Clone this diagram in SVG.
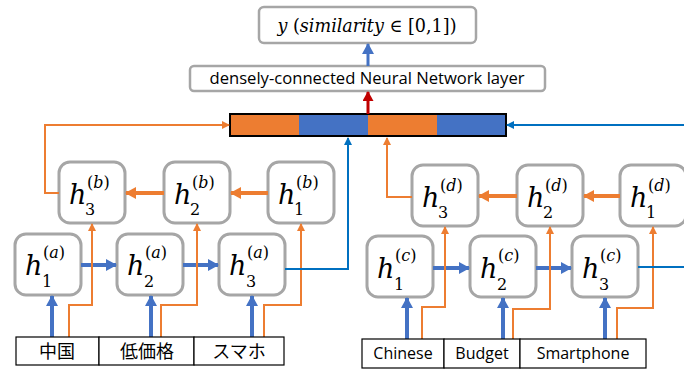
<svg xmlns="http://www.w3.org/2000/svg" width="684" height="372" viewBox="0 0 684 372">
<style>
.node{fill:#fff;stroke:#A6A6A6;stroke-width:3}
.box{fill:#fff;stroke:#A6A6A6;stroke-width:2.5}
.h{font-family:"DejaVu Serif","Liberation Serif",serif;font-style:italic;font-size:27px;fill:#000}
.s{font-family:"DejaVu Serif","Liberation Serif",serif;font-size:16px;fill:#000}
.i{font-style:italic}
.bt{fill:none;stroke:#4472C4;stroke-width:4}
.ot{fill:none;stroke:#ED7D31;stroke-width:4}
.o{fill:none;stroke:#ED7D31;stroke-width:2}
.b{fill:none;stroke:#0070C0;stroke-width:2}
.cell{fill:#fff;stroke:#000;stroke-width:1.2}
.w{font-family:"Open Sans","Noto Sans",sans-serif;font-size:16px;fill:#000}
.j{font-family:"Noto Sans CJK JP","Noto Sans",sans-serif;font-size:18px;fill:#000}
</style>
<defs>
<marker id="mbt" markerUnits="userSpaceOnUse" markerWidth="11" markerHeight="12" refX="10" refY="6" orient="auto"><path d="M0,0 L11,6 L0,12 z" fill="#4472C4"/></marker>
<marker id="mot" markerUnits="userSpaceOnUse" markerWidth="11" markerHeight="12" refX="10" refY="6" orient="auto"><path d="M0,0 L11,6 L0,12 z" fill="#ED7D31"/></marker>
<marker id="mo" markerUnits="userSpaceOnUse" markerWidth="8" markerHeight="8" refX="7" refY="4" orient="auto"><path d="M0,0 L8,4 L0,8 z" fill="#ED7D31"/></marker>
<marker id="mb" markerUnits="userSpaceOnUse" markerWidth="8" markerHeight="8" refX="7" refY="4" orient="auto"><path d="M0,0 L8,4 L0,8 z" fill="#0070C0"/></marker>
<marker id="mr" markerUnits="userSpaceOnUse" markerWidth="10" markerHeight="11" refX="9" refY="5.5" orient="auto"><path d="M0,0 L10,5.5 L0,11 z" fill="#C00000"/></marker>
</defs>

<g id="output">
<rect class="box" x="259" y="7" width="217" height="36" rx="5" stroke-width="3"/>
<text x="367" y="32" text-anchor="middle" font-family="DejaVu Serif,Liberation Serif,serif" font-size="18" textLength="179" lengthAdjust="spacingAndGlyphs"><tspan font-style="italic">y</tspan> (<tspan font-style="italic">similarity</tspan> ∈ [0,1])</text>
</g>
<g id="dense">
<rect class="box" x="190" y="66" width="355" height="25" rx="4"/>
<text x="367" y="84" text-anchor="middle" class="w" font-size="15" textLength="315" lengthAdjust="spacingAndGlyphs">densely-connected Neural Network layer</text>
</g>
<g id="concat">
<rect x="230" y="114" width="69" height="22" fill="#ED7D31"/>
<rect x="299" y="114" width="69" height="22" fill="#4472C4"/>
<rect x="368" y="114" width="69" height="22" fill="#ED7D31"/>
<rect x="437" y="114" width="69" height="22" fill="#4472C4"/>
<rect x="230" y="114" width="276" height="22" fill="none" stroke="#000" stroke-width="2"/>
</g>

<g id="h1a"><rect class="node" x="15" y="234" width="66" height="61" rx="11"/><text class="h" x="25" y="275">h</text><text class="s" x="43" y="258">(<tspan class="i">a</tspan>)</text><text class="s" x="42" y="287">1</text></g>
<g id="h2a"><rect class="node" x="117" y="234" width="66" height="61" rx="11"/><text class="h" x="127" y="275">h</text><text class="s" x="145" y="258">(<tspan class="i">a</tspan>)</text><text class="s" x="144" y="287">2</text></g>
<g id="h3a"><rect class="node" x="219" y="234" width="66" height="61" rx="11"/><text class="h" x="229" y="275">h</text><text class="s" x="247" y="258">(<tspan class="i">a</tspan>)</text><text class="s" x="246" y="287">3</text></g>

<g id="h3b"><rect class="node" x="59" y="162" width="66" height="61" rx="11"/><text class="h" x="69" y="204">h</text><text class="s" x="87" y="188">(<tspan class="i">b</tspan>)</text><text class="s" x="85" y="215">3</text></g>
<g id="h2b"><rect class="node" x="164" y="162" width="66" height="61" rx="11"/><text class="h" x="174" y="204">h</text><text class="s" x="192" y="188">(<tspan class="i">b</tspan>)</text><text class="s" x="190" y="215">2</text></g>
<g id="h1b"><rect class="node" x="268" y="162" width="66" height="61" rx="11"/><text class="h" x="278" y="204">h</text><text class="s" x="296" y="188">(<tspan class="i">b</tspan>)</text><text class="s" x="294" y="215">1</text></g>

<g id="h1c"><rect class="node" x="367" y="236" width="66" height="61" rx="11"/><text class="h" x="377" y="278">h</text><text class="s" x="395" y="261">(<tspan class="i">c</tspan>)</text><text class="s" x="394" y="290">1</text></g>
<g id="h2c"><rect class="node" x="470" y="236" width="66" height="61" rx="11"/><text class="h" x="480" y="278">h</text><text class="s" x="498" y="261">(<tspan class="i">c</tspan>)</text><text class="s" x="497" y="290">2</text></g>
<g id="h3c"><rect class="node" x="572" y="236" width="66" height="61" rx="11"/><text class="h" x="582" y="278">h</text><text class="s" x="600" y="261">(<tspan class="i">c</tspan>)</text><text class="s" x="599" y="290">3</text></g>

<g id="h3d"><rect class="node" x="412" y="165" width="66" height="61" rx="11"/><text class="h" x="422" y="207">h</text><text class="s" x="440" y="191">(<tspan class="i">d</tspan>)</text><text class="s" x="438" y="218">3</text></g>
<g id="h2d"><rect class="node" x="517" y="165" width="66" height="61" rx="11"/><text class="h" x="527" y="207">h</text><text class="s" x="545" y="191">(<tspan class="i">d</tspan>)</text><text class="s" x="543" y="218">2</text></g>
<g id="h1d"><rect class="node" x="620" y="165" width="66" height="61" rx="11"/><text class="h" x="630" y="207">h</text><text class="s" x="648" y="191">(<tspan class="i">d</tspan>)</text><text class="s" x="646" y="218">1</text></g>

<g id="connectors">
<path d="M368,66 V44" fill="none" stroke="#4472C4" stroke-width="3" marker-end="url(#mbt)"/>
<path d="M368,114 V92" fill="none" stroke="#C00000" stroke-width="3" marker-end="url(#mr)"/>
<path class="bt" d="M81,265 H116" marker-end="url(#mbt)"/>
<path class="bt" d="M183,265 H218" marker-end="url(#mbt)"/>
<path class="bt" d="M433,268 H469" marker-end="url(#mbt)"/>
<path class="bt" d="M536,268 H571" marker-end="url(#mbt)"/>
<path class="ot" d="M268,193 H231" marker-end="url(#mot)"/>
<path class="ot" d="M164,193 H126" marker-end="url(#mot)"/>
<path class="ot" d="M620,196 H584" marker-end="url(#mot)"/>
<path class="ot" d="M517,196 H479" marker-end="url(#mot)"/>
<path class="bt" d="M52,337 V296" marker-end="url(#mbt)"/>
<path class="bt" d="M151,337 V296" marker-end="url(#mbt)"/>
<path class="bt" d="M252,337 V296" marker-end="url(#mbt)"/>
<path class="bt" d="M407,339 V298" marker-end="url(#mbt)"/>
<path class="bt" d="M503,339 V298" marker-end="url(#mbt)"/>
<path class="bt" d="M605,339 V298" marker-end="url(#mbt)"/>
<path class="o" d="M69,337 V305 H92 V224" marker-end="url(#mo)"/>
<path class="o" d="M161,337 V305 H197 V224" marker-end="url(#mo)"/>
<path class="o" d="M264,337 V305 H301 V224" marker-end="url(#mo)"/>
<path class="o" d="M422,339 V307 H445 V227" marker-end="url(#mo)"/>
<path class="o" d="M513,339 V309 H550 V227" marker-end="url(#mo)"/>
<path class="o" d="M617,339 V308 H653 V227" marker-end="url(#mo)"/>
<path class="o" d="M59,193 H45 V125 H229" marker-end="url(#mo)"/>
<path class="o" d="M412,197 H387 V138" marker-end="url(#mo)"/>
<path class="b" d="M285,269 H348 V138" marker-end="url(#mb)"/>
<path class="b" d="M638,267 H684"/>
<path class="b" d="M684,125 H507" marker-end="url(#mb)"/>
</g>

<g id="words-ja">
<rect class="cell" x="16" y="337" width="83" height="28"/>
<rect class="cell" x="99" y="337" width="95" height="28"/>
<rect class="cell" x="194" y="337" width="90" height="28"/>
<text class="j" x="57" y="358" text-anchor="middle">中国</text>
<text class="j" x="147" y="358" text-anchor="middle">低価格</text>
<text class="j" x="239" y="358" text-anchor="middle">スマホ</text>
</g>
<g id="words-en">
<rect class="cell" x="362" y="339" width="82" height="29"/>
<rect class="cell" x="444" y="339" width="76" height="29"/>
<rect class="cell" x="520" y="339" width="126" height="29"/>
<text class="w" x="403" y="359" text-anchor="middle">Chinese</text>
<text class="w" x="482" y="359" text-anchor="middle">Budget</text>
<text class="w" x="583" y="359" text-anchor="middle">Smartphone</text>
</g>
</svg>
